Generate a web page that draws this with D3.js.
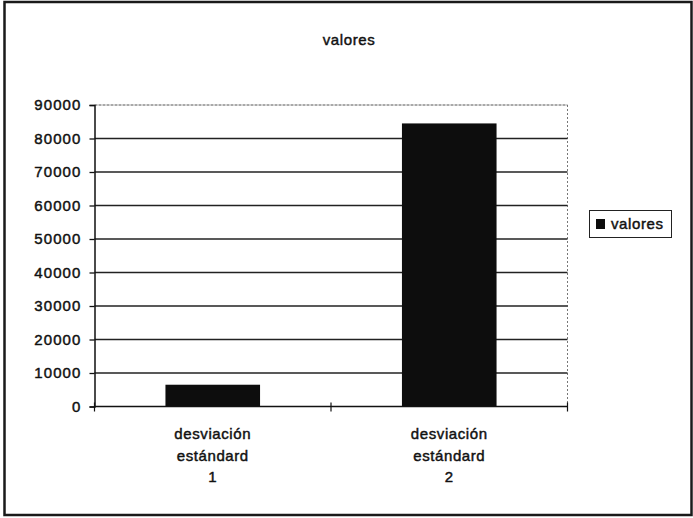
<!DOCTYPE html>
<html>
<head>
<meta charset="utf-8">
<script src="https://cdn.jsdelivr.net/npm/d3@7"></script>
<style>
  html, body { margin: 0; padding: 0; background: #fff; }
  svg { display: block; }
  text { font-family: "Liberation Sans", Arial, sans-serif; font-size: 15px; fill: #111; letter-spacing: 0.6px; stroke: #111; stroke-width: 0.45px; }
  .y-axis text { letter-spacing: 1.1px; }
</style>
</head>
<body>
<svg id="chart" width="693" height="518"></svg>
<script>
// Chart content
const title = "valores";
const seriesName = "valores";
const categoryLines = [
  ["desviación", "estándard", "1"],
  ["desviación", "estándard", "2"]
];
const categories = ["1", "2"];
const values = [6500, 84500];
const yTicks = [0, 10000, 20000, 30000, 40000, 50000, 60000, 70000, 80000, 90000];

const svg = d3.select("#chart");
const plot = { left: 94.5, right: 567.5, top: 105, bottom: 406.5 };

// Outer frame
svg.append("rect")
  .attr("x", 4.5).attr("y", 2).attr("width", 687).attr("height", 513)
  .attr("fill", "none").attr("stroke", "#1a1a1a").attr("stroke-width", 2.5);

const x = d3.scaleBand()
  .domain(categories)
  .range([plot.left, plot.right])
  .paddingInner(0.6).paddingOuter(0.3);

const y = d3.scaleLinear().domain([0, 90000]).range([plot.bottom, plot.top]);

// Plot area right edge (light dotted)
svg.append("line")
  .attr("x1", plot.right).attr("x2", plot.right)
  .attr("y1", plot.top).attr("y2", plot.bottom)
  .attr("stroke", "#777").attr("stroke-width", 1).attr("stroke-dasharray", "2,2");

// Horizontal gridlines
svg.append("g").selectAll("line")
  .data(yTicks.filter(d => d > 0))
  .join("line")
  .attr("x1", plot.left).attr("x2", plot.right)
  .attr("y1", d => y(d)).attr("y2", d => y(d))
  .attr("stroke", d => d === 90000 ? "#555" : "#222")
  .attr("stroke-width", d => d === 90000 ? 1 : 1.3)
  .attr("stroke-dasharray", d => d === 90000 ? "3,1" : null);

// Bars
svg.append("g").selectAll("rect")
  .data(values)
  .join("rect")
  .attr("x", (d, i) => x(categories[i]))
  .attr("width", x.bandwidth())
  .attr("y", d => y(d))
  .attr("height", d => y(0) - y(d))
  .attr("fill", "#0d0d0d");

// Y axis
const yAxis = d3.axisLeft(y).tickValues(yTicks).tickSize(5).tickPadding(8).tickFormat(d3.format("d"));
const gy = svg.append("g").attr("class", "y-axis").attr("transform", `translate(${plot.left},0)`).call(yAxis);
gy.select(".domain").attr("stroke", "#111").attr("stroke-width", 1.5);
gy.selectAll(".tick line").attr("stroke", "#111").attr("stroke-width", 1.3);
gy.selectAll(".tick text").attr("font-size", null).attr("font-family", null).attr("fill", null);

// X axis with tick marks crossing at the band boundaries
svg.append("line")
  .attr("x1", plot.left).attr("x2", plot.right)
  .attr("y1", plot.bottom).attr("y2", plot.bottom)
  .attr("stroke", "#111").attr("stroke-width", 1.5);
const boundaries = [plot.left, plot.left + (plot.right - plot.left) / 2, plot.right];
svg.append("g").selectAll("line")
  .data(boundaries)
  .join("line")
  .attr("x1", d => d).attr("x2", d => d)
  .attr("y1", plot.bottom - 4).attr("y2", plot.bottom + 5)
  .attr("stroke", "#111").attr("stroke-width", 1.2);

// Category labels (three lines each)
const cat = svg.append("g").selectAll("text")
  .data(categoryLines)
  .join("text")
  .attr("text-anchor", "middle")
  .attr("x", (d, i) => x(categories[i]) + x.bandwidth() / 2)
  .attr("y", 439);
cat.selectAll("tspan")
  .data(d => d)
  .join("tspan")
  .attr("x", function () { return d3.select(this.parentNode).attr("x"); })
  .attr("dy", (d, i) => i === 0 ? 0 : 21.5)
  .text(d => d);

// Title
svg.append("text")
  .attr("x", 349).attr("y", 45)
  .attr("text-anchor", "middle")
  .text(title);

// Legend
const lg = svg.append("g").attr("transform", "translate(589,210)");
lg.append("rect").attr("x", 0.5).attr("y", 0.5).attr("width", 82).attr("height", 27)
  .attr("fill", "#fff").attr("stroke", "#222").attr("stroke-width", 1);
lg.append("rect").attr("x", 7).attr("y", 9).attr("width", 9).attr("height", 10).attr("fill", "#0d0d0d");
lg.append("text").attr("x", 22).attr("y", 19).text(seriesName);
</script>
</body>
</html>
